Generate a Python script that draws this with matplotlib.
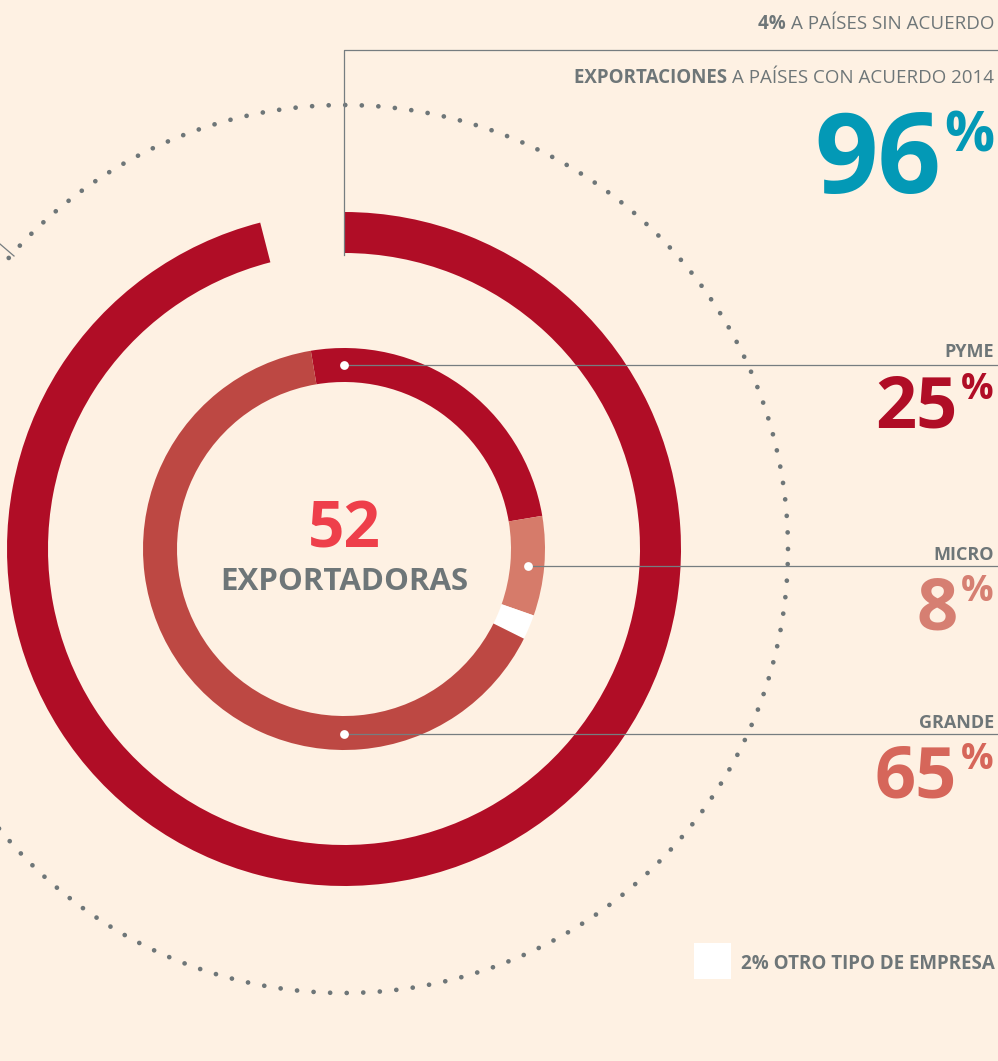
import matplotlib
matplotlib.use('Agg')
import numpy as np
import matplotlib.pyplot as plt
from matplotlib.patches import Rectangle

W, H = 998, 1061

# data
outer_labels = ['Países con acuerdo', 'Países sin acuerdo']
outer_values = [96, 4]
inner_labels = ['PYME', 'MICRO', 'OTRO', 'GRANDE']
inner_values = [25, 8, 2, 65]
exportadoras = 52

BG = '#FEF1E3'
GRAY = '#6E7678'
LINE = '#767D80'
DARKRED = '#B00D26'
outer_colors = [DARKRED, 'none']
inner_colors = [DARKRED, '#D67B6A', '#FFFFFF', '#BD4843']

plt.rcParams['font.family'] = ['Open Sans', 'DejaVu Sans']


def Y(y):
    # pixel row (from top) -> data y (from bottom)
    return H - y


fig = plt.figure(figsize=(W / 100, H / 100), dpi=100)
fig.patch.set_facecolor(BG)
ax = fig.add_axes([0, 0, 1, 1])

cx, cy = 344, Y(549)

# outer ring
ax.pie(outer_values, colors=outer_colors, startangle=90, counterclock=False,
       radius=337, center=(cx, cy), frame=True,
       wedgeprops=dict(width=41, linewidth=0))

# inner ring
ax.pie(inner_values, colors=inner_colors, startangle=99.5, counterclock=False,
       radius=201, center=(cx, cy), frame=True,
       wedgeprops=dict(width=34, linewidth=0))

# dotted circle
t = np.linspace(0, 2 * np.pi, 721)
ax.plot(cx + 444 * np.cos(t), cy + 444 * np.sin(t), color=GRAY, lw=3.4,
        linestyle=(0, (0.01, 3.5)), dash_capstyle='round', zorder=1)

ax.set_xlim(0, W)
ax.set_ylim(0, H)
ax.set_aspect('equal')
ax.axis('off')

# leader lines
lw = 0.9
ax.plot([344, 344, W], [Y(255), Y(50), Y(50)], color=LINE, lw=lw, zorder=3)
ax.plot([344, W], [Y(365), Y(365)], color=LINE, lw=lw, zorder=3)
ax.plot([528, W], [Y(566), Y(566)], color=LINE, lw=lw, zorder=3)
ax.plot([344, W], [Y(734), Y(734)], color=LINE, lw=lw, zorder=3)
ax.plot([0, 14], [Y(244), Y(256)], color=LINE, lw=lw, zorder=3)
ax.scatter([344, 528, 344], [Y(365), Y(566), Y(734)], s=40, color='white',
           zorder=4, linewidths=0)

renderer = fig.canvas.get_renderer()


def big_pct(x_right, base, number, size, pct_size, pct_top, color, gap=4):
    pct = ax.text(x_right, Y(pct_top), '%', fontsize=pct_size, color=color,
                  fontweight='bold', ha='right', va='top')
    bb = pct.get_window_extent(renderer)
    ax.text(bb.x0 - gap, Y(base), str(number), fontsize=size, color=color,
            fontweight='bold', ha='right', va='baseline')


def label_mixed(x_right, base, bold, normal, size):
    t = ax.text(x_right, Y(base), normal, fontsize=size, color=GRAY,
                ha='right', va='baseline')
    bb = t.get_window_extent(renderer)
    ax.text(bb.x0, Y(base), bold + ' ', fontsize=size, color=GRAY,
            fontweight='bold', ha='right', va='baseline')


# top texts
label_mixed(994, 29, '4%', 'A PAÍSES SIN ACUERDO', 13.5)
label_mixed(994, 83, 'EXPORTACIONES', 'A PAÍSES CON ACUERDO 2014', 13.5)
big_pct(994, 193, outer_values[0], 80, 40, 110, '#0399B6', gap=3)

# segment labels
seg = [('PYME', 357, 428, 372, inner_values[0], DARKRED),
       ('MICRO', 560, 630, 574, inner_values[1], '#D67F72'),
       ('GRANDE', 728, 798, 742, inner_values[3], '#D6665A')]
for name, ybase, nbase, ptop, val, col in seg:
    ax.text(994, Y(ybase), name, fontsize=13, color=GRAY, fontweight='bold',
            ha='right', va='baseline')
    big_pct(994, nbase, val, 52, 26, ptop, col)

# centre
ax.text(cx, Y(548), str(exportadoras), fontsize=46, color='#EE3F4A',
        fontweight='bold', ha='center', va='baseline')
ax.text(cx, Y(590), 'EXPORTADORAS', fontsize=22.5, color=GRAY,
        fontweight='bold', ha='center', va='baseline')

# legend for the small white slice
ax.add_patch(Rectangle((694, Y(979)), 37, 36, facecolor='white',
                       edgecolor='none'))
ax.text(741, Y(969), '2% OTRO TIPO DE EMPRESA', fontsize=13.5, color=GRAY,
        fontweight='bold', ha='left', va='baseline')

fig.savefig('out.png', dpi=100, facecolor=BG)
